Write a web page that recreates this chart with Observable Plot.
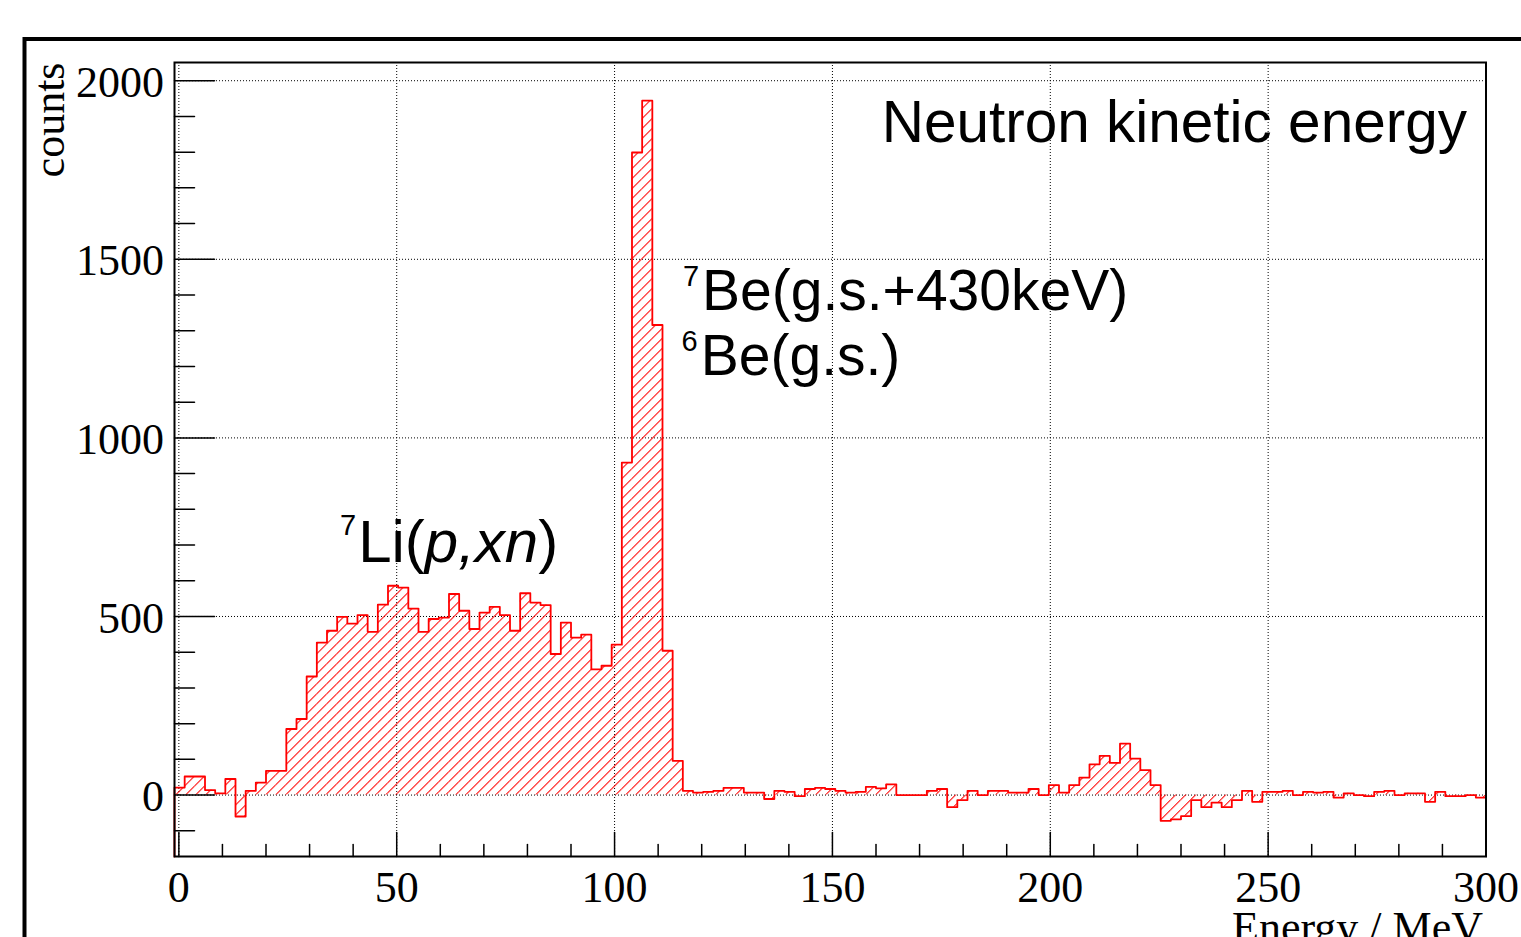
<!DOCTYPE html>
<html><head><meta charset="utf-8">
<script src="https://cdn.jsdelivr.net/npm/d3@7"></script>
<script src="https://cdn.jsdelivr.net/npm/@observablehq/plot@0.6"></script>
<style>html,body{margin:0;padding:0;background:#fff;overflow:hidden}</style>
</head><body>
<svg width="0" height="0" style="position:absolute;left:0;top:0">
  <defs>
    <pattern id="hatch3004" patternUnits="userSpaceOnUse" width="7.07" height="7.07" patternTransform="rotate(45)">
      <rect x="0" y="0" width="1" height="7.07" fill="#ff0000"></rect>
    </pattern>
  </defs>
</svg>
<div id="chart"></div>
<script>
// Histogram definition (129 bins from -1 to 300 MeV)
const histMin = -1;
const histMax = 300;
const counts = [
  21, 52, 52, 14, 5, 45, -60, 12, 35, 68,
  68, 185, 213, 332, 427, 460, 499, 480, 504, 457,
  533, 586, 581, 522, 457, 493, 497, 563, 516, 465,
  511, 527, 504, 460, 565, 539, 532, 395, 483, 441,
  449, 352, 362, 421, 931, 1799, 1944, 1316, 404, 96,
  12, 7, 9, 12, 20, 20, 7, 7, -11, 12,
  9, -3, 17, 20, 17, 12, 7, 9, 23, 19,
  30, 0, 0, 0, 12, 17, -34, -14, 12, 0,
  12, 12, 7, 7, 17, 0, 28, 7, 28, 49,
  86, 110, 90, 144, 102, 70, 28, -72, -68, -59,
  -14, -34, -21, -34, -14, 12, -19, 9, 9, 12,
  0, 9, 7, 9, -7, 5, 0, -3, 9, 12,
  0, 5, 5, -19, 9, -3, -3, 0, -7
];
const xMajorTicks = [0, 50, 100, 150, 200, 250, 300];
const xMinorTicks = [10, 20, 30, 40, 60, 70, 80, 90, 110, 120, 130, 140, 160, 170, 180, 190, 210, 220, 230, 240, 260, 270, 280, 290];
const yMajorTicks = [0, 500, 1000, 1500, 2000];
const yMinorTicks = [-100, 100, 200, 300, 400, 600, 700, 800, 900, 1100, 1200, 1300, 1400, 1600, 1700, 1800, 1900];
const xDomain = [-1, 300];
const yDomain = [-172, 2051];
const titleText = "Neutron kinetic energy";
const xLabel = "Energy / MeV";
const yLabel = "counts";

const binWidth = (histMax - histMin) / counts.length;
const bins = counts.map((v, i) => ({lo: histMin + i * binWidth, hi: histMin + (i + 1) * binWidth, v}));
const outline = [{x: histMin, y: yDomain[0]}]
  .concat(bins.map(b => ({x: b.lo, y: b.v})))
  .concat([{x: histMax, y: counts[counts.length - 1]}]);

const red = "#ff0000";
const serif = "'Liberation Serif', 'Times New Roman', serif";
const sans = "'Liberation Sans', Arial, sans-serif";
const tickShape = {draw(context, l) { context.moveTo(0, 0); context.lineTo(0, -l); }};

const chart = Plot.plot({
  width: 1521,
  height: 937,
  marginLeft: 174,
  marginRight: 35.5,
  marginTop: 62,
  marginBottom: 81,
  x: {domain: xDomain},
  y: {domain: yDomain},
  style: {background: "white", fontFamily: serif, color: "black", overflow: "hidden"},
  marks: [
    Plot.gridX(xMajorTicks, {stroke: "black", strokeOpacity: 1, strokeWidth: 1, strokeDasharray: "1,2"}),
    Plot.gridY(yMajorTicks, {stroke: "black", strokeOpacity: 1, strokeWidth: 1, strokeDasharray: "1,2"}),
    Plot.rect(bins, {x1: "lo", x2: "hi", y1: 0, y2: "v", fill: "url(#hatch3004)"}),
    Plot.line(outline, {x: "x", y: "y", curve: "step-after", stroke: red, strokeWidth: 1.8}),
    Plot.vector(yMajorTicks, {x: xDomain[0], y: d => d, length: 40, rotate: 90, anchor: "start", shape: tickShape, stroke: "black", strokeWidth: 1.5}),
    Plot.vector(yMinorTicks, {x: xDomain[0], y: d => d, length: 20, rotate: 90, anchor: "start", shape: tickShape, stroke: "black", strokeWidth: 1.5}),
    Plot.vector(xMajorTicks, {x: d => d, y: yDomain[0], length: 24, rotate: 0, anchor: "start", shape: tickShape, stroke: "black", strokeWidth: 1.5}),
    Plot.vector(xMinorTicks, {x: d => d, y: yDomain[0], length: 12, rotate: 0, anchor: "start", shape: tickShape, stroke: "black", strokeWidth: 1.5}),
    Plot.axisX(xMajorTicks, {tickSize: 0, tickPadding: 14.5, fontSize: 44, fontFamily: serif, label: null, tickFormat: d => String(d)}),
    Plot.axisY(yMajorTicks, {tickSize: 0, tickPadding: 10.5, fontSize: 44, fontFamily: serif, label: null, dy: 2, tickFormat: d => String(d)}),
    Plot.frame({stroke: "black", strokeWidth: 2}),
    Plot.text([titleText], {frameAnchor: "top-right", textAnchor: "end", lineAnchor: "bottom", dx: -19, dy: 79, fontSize: 58.5, fontFamily: sans, fill: "black"}),
    Plot.text([xLabel], {frameAnchor: "bottom-right", textAnchor: "end", lineAnchor: "bottom", dx: -3, dy: 85, fontSize: 44, fontFamily: serif, fill: "black"}),
    Plot.text([yLabel], {frameAnchor: "top-left", textAnchor: "end", lineAnchor: "bottom", rotate: -90, dx: -111, dy: 0, fontSize: 44, fontFamily: serif, fill: "black"})
  ]
});

document.getElementById("chart").appendChild(chart);
const svg = d3.select(chart);

// annotations with superscripts / italics
const sx = chart.scale("x"), sy = chart.scale("y");
function latex(xv, yv, parts, size) {
  const t = svg.append("text")
    .attr("x", sx.apply(xv)).attr("y", sy.apply(yv))
    .attr("text-anchor", "start")
    .attr("font-family", sans).attr("font-size", size).attr("fill", "black");
  parts.forEach(p => {
    const ts = t.append("tspan").text(p.t);
    if (p.sup) ts.attr("font-size", p.sup).attr("dy", -p.raise);
    if (p.back) ts.attr("dy", p.back).attr("dx", p.dx || 0);
    if (p.it) ts.attr("font-style", "italic");
  });
}
latex(115.8, 1356, [{t: "7", sup: 29, raise: 24}, {t: "Be(g.s.+430keV)", back: 24, dx: 3}], 57);
latex(115.5, 1174, [{t: "6", sup: 29, raise: 24}, {t: "Be(g.s.)", back: 24, dx: 3}], 57);
latex(37.1, 651, [{t: "7", sup: 29, raise: 27}, {t: "Li(", back: 27, dx: 2}, {t: "p,xn", it: true}, {t: ")"}], 60);

// outer canvas border
svg.append("rect")
  .attr("x", 24.5).attr("y", 39)
  .attr("width", 3000).attr("height", 3000)
  .attr("fill", "none").attr("stroke", "black").attr("stroke-width", 4);
</script>
</body></html>
